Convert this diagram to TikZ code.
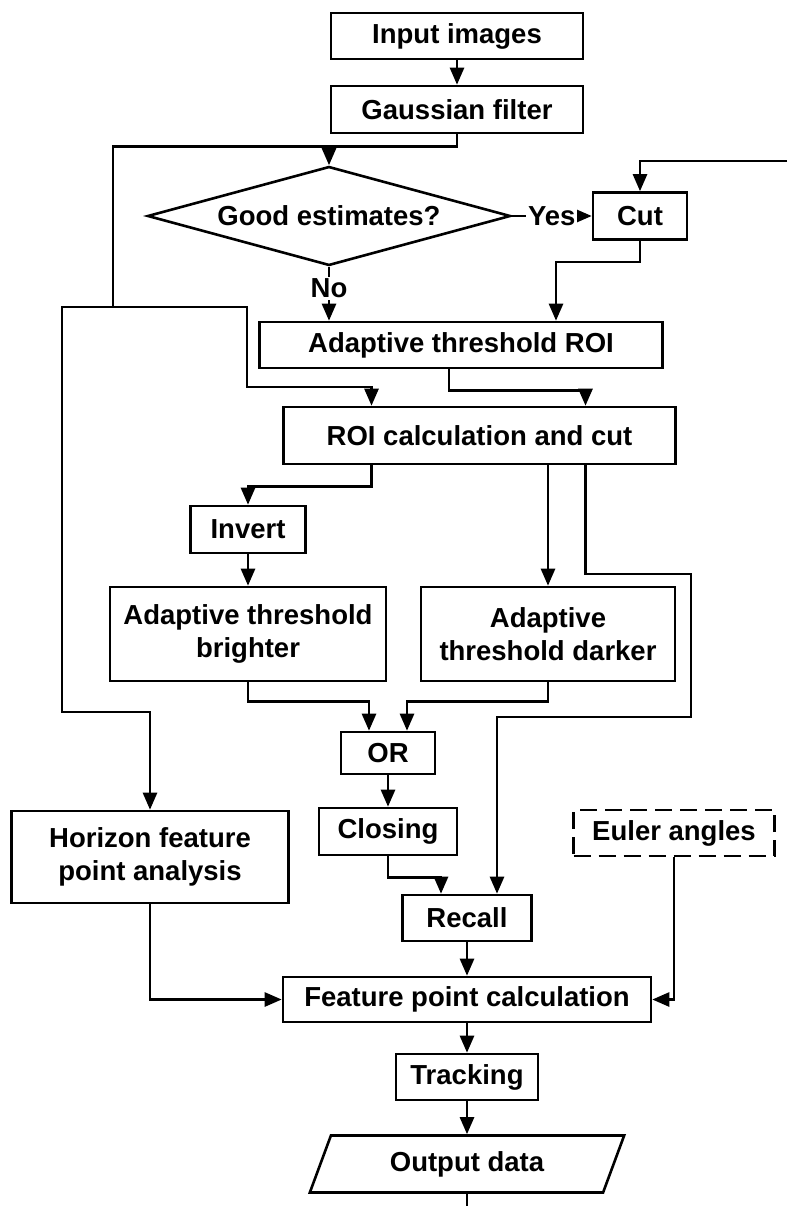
\documentclass[tikz,border=0pt]{standalone}
\usepackage{fontspec}
\setmainfont{Liberation Sans}
\usetikzlibrary{positioning,arrows.meta,shapes.geometric}

\begin{document}
\begin{tikzpicture}[x=1pt,y=-1pt,line width=2.6pt,>={Triangle[length=17pt,width=14pt]}]
  \tikzstyle{block}=[rectangle, draw, inner sep=0pt, align=center, font=\fontsize{27.5}{33}\selectfont\bfseries]
  \tikzstyle{lbl}=[fill=white, inner sep=2pt, font=\fontsize{27.5}{33}\selectfont\bfseries]
  \useasboundingbox (0,0) rectangle (787,1206);

  \node[block, minimum width=252, minimum height=46] (input) at (457,36) {Input images};
  \node[block, minimum width=252, minimum height=47] (gauss) at (457,109.5) {Gaussian filter};
  \node[block, diamond, aspect=3.67, minimum width=363, minimum height=99] (dia) at (329,216) {Good estimates?};
  \node[block, minimum width=94, minimum height=47] (cut) at (640,216) {Cut};
  \node[block, minimum width=403, minimum height=46] (roi) at (461,345) {Adaptive threshold ROI};
  \node[block, minimum width=392, minimum height=57] (calc) at (479.5,435.5) {ROI calculation and cut};
  \node[block, minimum width=115, minimum height=47] (invert) at (248,529.5) {Invert};
  \node[block, minimum width=276, minimum height=94] (bright) at (248,634) {Adaptive threshold\\brighter};
  \node[block, minimum width=254, minimum height=94] (dark) at (548,634) {Adaptive\\threshold darker};
  \node[block, minimum width=94, minimum height=42] (or) at (388,753) {OR};
  \node[block, minimum width=138, minimum height=47] (closing) at (388,831.5) {Closing};
  \node[block, minimum width=277, minimum height=92] (horizon) at (150,857) {Horizon feature\\point analysis};
  \node[block, dash pattern=on 17pt off 8pt, minimum width=201, minimum height=46] (euler) at (674,833) {Euler angles};
  \node[block, minimum width=129, minimum height=46] (recall) at (467,918) {Recall};
  \node[block, minimum width=368, minimum height=45] (feature) at (467,999.5) {Feature point calculation};
  \node[block, minimum width=142, minimum height=46] (tracking) at (467,1077) {Tracking};
  \node[block, trapezium, trapezium left angle=65, trapezium right angle=115, trapezium stretches=true, minimum width=315, minimum height=57] (output) at (467,1164) {Output data};

  \coordinate (split) at (113,307);
  \coordinate (fb) at (787,161);
  \coordinate (end) at (467,1206);

  \draw[->] (input) -- (gauss);
  \draw (gauss.south) -- ++(0,12) -| (split);
  \draw[->] (gauss.south) -- ++(0,12) -| (dia.north);
  \draw[->] (dia) -- node[lbl]{Yes} (cut);
  \draw[->] (fb) -| (cut.north);
  \draw[->] (cut.south) -- ++(0,21) -| ([xshift=95]roi.north);
  \draw[->] (dia.south) -- node[lbl, pos=0.4]{No} (dia.south |- roi.north);
  \draw[->] (split) -| ++(-51,405) -| (horizon.north);
  \draw[->] (split) -| ++(134,80) -| ([xshift=-108]calc.north);
  \draw[->] ([xshift=-12]roi.south) -- ++(0,21) -| ([xshift=106]calc.north);

  \draw[->] ([xshift=-108]calc.south) -- ++(0,21) -| (invert.north);
  \draw[->] (invert) -- (bright);
  \draw[->] (dark.north |- calc.south) -- (dark);
  \draw[->] ([xshift=106]calc.south) |- (691,574) |- (497,717) -- ([xshift=30]recall.north);

  \draw[->] (bright.south) -- ++(0,19) -| ([xshift=-19]or.north);
  \draw[->] (dark.south) -- ++(0,19) -| ([xshift=19]or.north);
  \draw[->] (or) -- (closing);
  \draw[->] (closing.south) -- ++(0,21) -| ([xshift=-26]recall.north);
  \draw[->] (recall) -- (feature);
  \draw[->] (horizon.south) |- (feature.west);
  \draw[->] (euler.south) |- (feature.east);
  \draw[->] (feature) -- (tracking);
  \draw[->] (tracking) -- (output);
  \draw (output) -- (end);
\end{tikzpicture}
\end{document}
